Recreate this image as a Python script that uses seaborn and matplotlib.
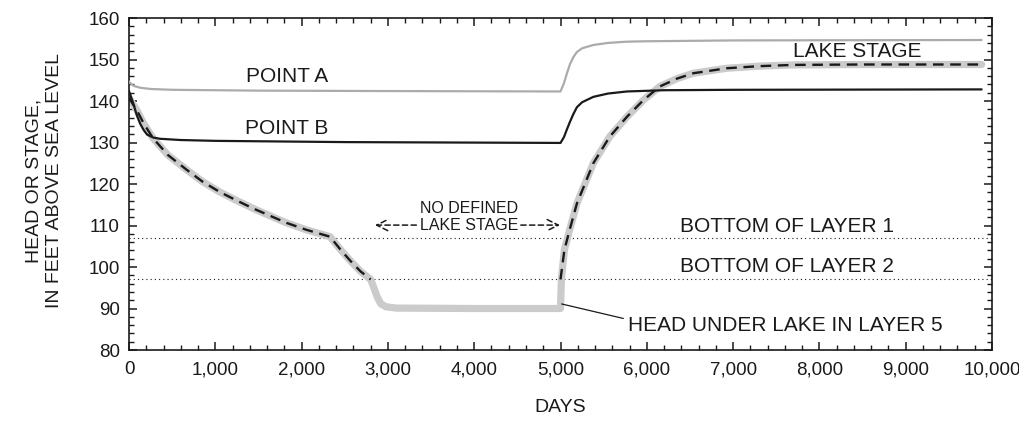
import numpy as np
import pandas as pd
import seaborn as sns
import matplotlib.pyplot as plt
from matplotlib.ticker import MultipleLocator, FuncFormatter
from matplotlib.transforms import ScaledTranslation

# --- data (days, feet above sea level) ---
head_days = [0, 40, 90, 170, 280, 450, 670, 850, 1050, 1250, 1440, 1650, 1830, 2050, 2330,
             2450, 2560, 2680, 2800, 2850, 2880, 2920, 2980, 3100, 4000, 5000,
             5010, 5045, 5100, 5190, 5380, 5570, 5770, 5960, 6150, 6350, 6540, 6930,
             7300, 7700, 8500, 9880]
head_vals = [140.8, 139.4, 137.8, 134.6, 131.0, 127.0, 123.4, 120.6, 118.1, 116.0, 114.1, 112.2, 110.6, 109.0, 107.3,
             104.2, 101.6, 99.0, 97.0, 94.3, 92.6, 91.1, 90.4, 90.1, 90.0, 90.0,
             97.0, 104.1, 108.5, 115.3, 125.0, 131.4, 136.2, 140.2, 143.5, 145.4, 146.7, 147.9,
             148.4, 148.7, 148.8, 148.8]

# lake stage, defined before ~2800 days and after 5000 days
lake_days_early = [0, 40, 90, 170, 280, 450, 670, 850, 1050, 1250, 1440, 1650, 1830, 2050, 2330,
                   2450, 2560, 2680, 2800]
lake_vals_early = [140.8, 139.4, 137.8, 134.6, 131.0, 127.0, 123.4, 120.6, 118.1, 116.0, 114.1, 112.2, 110.6, 109.0, 107.3,
                   104.2, 101.6, 99.0, 97.0]
lake_days_late = [5000, 5045, 5100, 5190, 5380, 5570, 5770, 5960, 6150, 6350, 6540, 6930,
                  7300, 7700, 8500, 9880]
lake_vals_late = [97.0, 104.1, 108.5, 115.3, 125.0, 131.4, 136.2, 140.2, 143.5, 145.4, 146.7, 147.9,
                  148.4, 148.7, 148.8, 148.8]

point_a_days = [0, 30, 60, 130, 250, 500, 1500, 3000, 5000, 5040, 5075, 5110, 5150, 5190,
                5250, 5380, 5550, 5770, 6000, 7000, 9880]
point_a_vals = [144.7, 144.0, 143.6, 143.2, 142.9, 142.7, 142.5, 142.4, 142.3, 144.3, 146.7, 148.9, 150.6, 151.8,
                152.7, 153.5, 154.0, 154.3, 154.4, 154.6, 154.7]

point_b_days = [0, 50, 90, 130, 170, 210, 280, 360, 600, 1000, 2500, 5000, 5040, 5075, 5110,
                5150, 5190, 5250, 5380, 5550, 5770, 6200, 7000, 9880]
point_b_vals = [142.4, 139.4, 136.6, 134.5, 133.0, 131.9, 131.2, 130.9, 130.6, 130.4, 130.1, 129.9, 131.3, 133.2, 135.0,
                136.9, 138.5, 139.7, 141.0, 141.8, 142.3, 142.6, 142.7, 142.8]

layer_bottoms = [107, 97]

sns.set_theme(style='ticks')
plt.rcParams['font.family'] = ['Liberation Sans', 'DejaVu Sans']
ink = '#1a1a1a'

fig = plt.figure(figsize=(10.19, 4.26), dpi=100)
ax = fig.add_axes([0.1266, 0.1784, 0.8469, 0.7793])

for yb in layer_bottoms:
    ax.axhline(yb, color=ink, lw=0.8, linestyle=(0, (1, 2.8)), zorder=1)

sns.lineplot(x=head_days, y=head_vals, ax=ax, color='#cbcbcb', lw=5.2,
             estimator=None, sort=False, zorder=2)
sns.lineplot(x=point_a_days, y=point_a_vals, ax=ax, color='#ababab', lw=1.6,
             estimator=None, sort=False, zorder=3)
sns.lineplot(x=point_b_days, y=point_b_vals, ax=ax, color=ink, lw=1.6,
             estimator=None, sort=False, zorder=3)
for d, v in [(lake_days_early, lake_vals_early), (lake_days_late, lake_vals_late)]:
    sns.lineplot(x=d, y=v, ax=ax, color=ink, lw=1.7, linestyle=(0, (4.5, 2.8)),
                 estimator=None, sort=False, zorder=4)

# --- labels on the chart ---
lab = dict(fontsize=15, color=ink)
ax.text(1826, 145.9, 'POINT A', ha='center', va='center', **lab)
ax.text(1826, 133.4, 'POINT B', ha='center', va='center', **lab)
ax.text(8435, 151.9, 'LAKE STAGE', ha='center', va='center', **lab)
ax.text(6385, 109.7, 'BOTTOM OF LAYER 1', ha='left', va='center', **lab)
ax.text(6385, 100.1, 'BOTTOM OF LAYER 2', ha='left', va='center', **lab)
ax.text(5780, 86.0, 'HEAD UNDER LAKE IN LAYER 5', ha='left', va='center', **lab)
ax.annotate('', xy=(5013, 91.1), xytext=(5728, 87.6),
            arrowprops=dict(arrowstyle='-', lw=0.9, color=ink, shrinkA=0, shrinkB=0))

ax.text(3940, 114.2, 'NO DEFINED', ha='center', va='center', fontsize=11.5, color=ink)
ax.text(3940, 110.1, 'LAKE STAGE', ha='center', va='center', fontsize=11.5, color=ink)
arrow = dict(arrowstyle='->', lw=1.1, color=ink, linestyle=(0, (3.5, 2.2)),
             shrinkA=0, shrinkB=0, mutation_scale=20)
ax.annotate('', xy=(2850, 110.1), xytext=(3330, 110.1), arrowprops=arrow)
ax.annotate('', xy=(4994, 110.1), xytext=(4540, 110.1), arrowprops=arrow)

# --- axes ---
ax.set_xlim(0, 10000)
ax.set_ylim(80, 160)
ax.xaxis.set_major_locator(MultipleLocator(1000))
ax.xaxis.set_minor_locator(MultipleLocator(200))
ax.yaxis.set_major_locator(MultipleLocator(10))
ax.yaxis.set_minor_locator(MultipleLocator(2))
ax.xaxis.set_major_formatter(FuncFormatter(lambda v, p: f'{int(v):,}'))
ax.tick_params(which='both', direction='in', top=True, right=True, color=ink)
ax.tick_params(which='major', length=6, width=1.1, labelsize=13.5, labelcolor=ink)
ax.tick_params(axis='x', which='major', pad=8)
ax.tick_params(axis='y', which='major', pad=6.5)
ax.tick_params(which='minor', length=3.5, width=1.0)
for s in ax.spines.values():
    s.set_color(ink)
    s.set_linewidth(1.2)

# last x label sits a little left of its tick, as in the original
fig.canvas.draw()
last = ax.get_xticklabels()[-1]
last.set_transform(last.get_transform() + ScaledTranslation(-0.07, 0, fig.dpi_scale_trans))

ax.set_xlabel('DAYS', fontsize=14, color=ink)
ax.xaxis.set_label_coords(0.5, -0.148)
ax.set_ylabel('HEAD OR STAGE,\nIN FEET ABOVE SEA LEVEL', fontsize=14, color=ink,
              linespacing=1.25)
ax.yaxis.set_label_coords(-0.077, 0.51)

fig.savefig('out.png', dpi=100)
